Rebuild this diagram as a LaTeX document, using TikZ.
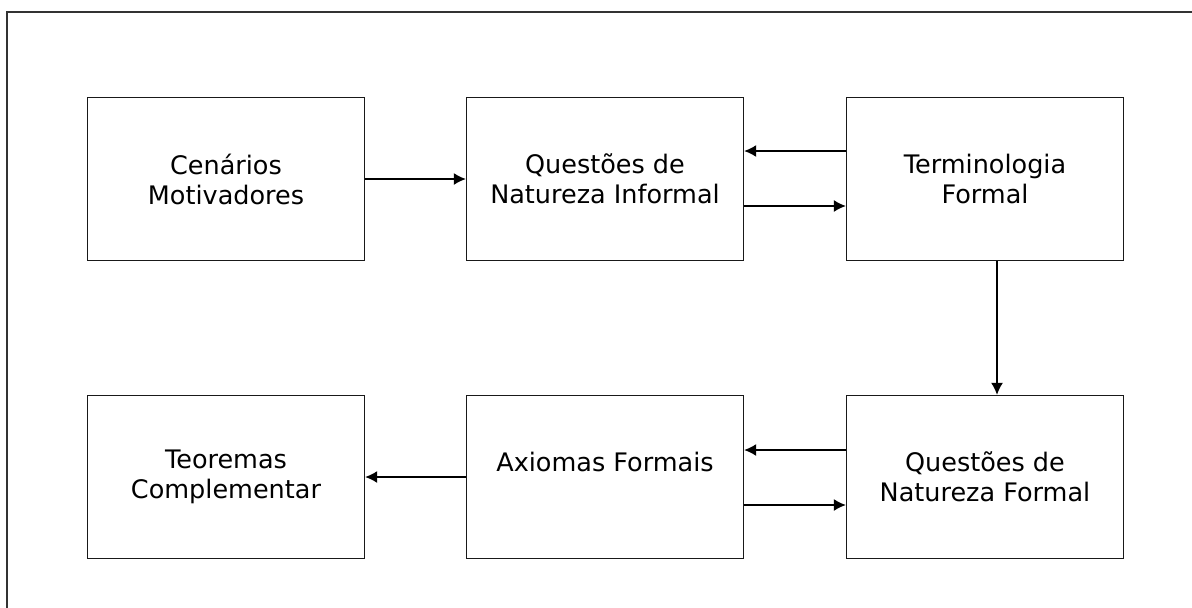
\documentclass[tikz,border=0pt]{standalone}
\usepackage{fontspec}
\setmainfont{DejaVu Sans}
\usetikzlibrary{arrows.meta}
\begin{document}
\begin{tikzpicture}[x=1pt,y=-1pt,
  box/.style={draw=black!90,line width=1.4pt,minimum width=277pt,minimum height=163pt,align=center,inner sep=0pt,
    font=\fontsize{25.5}{30}\selectfont},
  arr/.style={line width=1.3pt,-{Latex[length=12pt,width=12pt]}}]
\useasboundingbox (0,0) rectangle (1192,608);
\draw[line width=1.5pt,color=black!80] (7,608) -- (7,12) -- (1192,12);
\node[box] (cm) at (226,179) {Cenários\\Motivadores};
\node[box] (qi) at (605,179) {Questões de\\Natureza Informal};
\node[box] (tf) at (985,179) {Terminologia\\Formal};
\node[box] (tc) at (226,477) {Teoremas\\Complementar};
\node[box] (af) at (605,477) {Axiomas Formais\\\mbox{}};
\node[box] (qf) at (985,477) {Questões de\\Natureza Formal};
\draw[arr] (cm.east) -- (qi.west);
\draw[arr] ([yshift=28pt]tf.west) -- ([yshift=28pt]qi.east);
\draw[arr] ([yshift=-27pt]qi.east) -- ([yshift=-27pt]tf.west);
\draw[arr] ([xshift=12pt]tf.south) -- ([xshift=12pt]qf.north);
\draw[arr] ([yshift=27pt]qf.west) -- ([yshift=27pt]af.east);
\draw[arr] ([yshift=-28pt]af.east) -- ([yshift=-28pt]qf.west);
\draw[arr] (af.west) -- (tc.east);
\end{tikzpicture}
\end{document}
